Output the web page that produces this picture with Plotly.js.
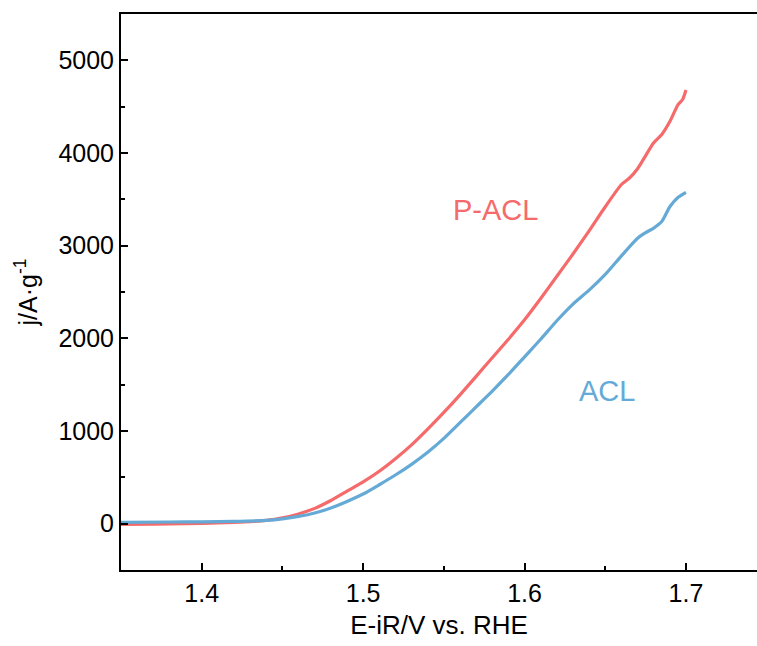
<!DOCTYPE html>
<html>
<head>
<meta charset="utf-8">
<script src="https://cdn.plot.ly/plotly-3.0.1.min.js"></script>
<style>html,body{margin:0;padding:0;background:#fff;}#chart{width:757px;height:646px;}</style>
</head>
<body>
<div id="chart"></div>
<script>
const pacl_E = [1.350,1.370,1.390,1.410,1.430,1.440,1.450,1.460,1.470,1.480,1.490,1.500,1.510,1.520,1.530,1.540,1.550,1.560,1.570,1.580,1.590,1.600,1.610,1.620,1.630,1.640,1.650,1.660,1.665,1.670,1.680,1.685,1.690,1.695,1.698,1.700];
const pacl_j = [-8,-5,0,8,22,35,62,105,165,250,350,450,565,700,850,1020,1200,1390,1590,1790,1990,2200,2430,2670,2910,3160,3420,3660,3730,3830,4110,4200,4340,4520,4580,4680];
const acl_E = [1.350,1.380,1.400,1.420,1.440,1.450,1.460,1.470,1.480,1.490,1.500,1.510,1.520,1.530,1.540,1.550,1.560,1.570,1.580,1.590,1.600,1.610,1.620,1.630,1.640,1.650,1.660,1.670,1.675,1.680,1.685,1.690,1.695,1.700];
const acl_j = [15,18,20,25,35,52,78,115,170,240,320,420,525,640,770,920,1090,1260,1430,1610,1800,1990,2190,2370,2520,2690,2890,3080,3140,3190,3260,3420,3520,3576];
const xTicks = [1.4,1.5,1.6,1.7];
const yTicks = [0,1000,2000,3000,4000,5000];
const labels = ["P-ACL","ACL"];

const red = "#F56A6A", blue = "#65AAD6";
const font = "Arial, 'Liberation Sans', sans-serif";

Plotly.newPlot("chart", [
  {x: pacl_E, y: pacl_j, mode: "lines", line: {color: red, width: 3.2, shape: "spline", smoothing: 0.6}, name: labels[0]},
  {x: acl_E, y: acl_j, mode: "lines", line: {color: blue, width: 3.2, shape: "spline", smoothing: 0.6}, name: labels[1]}
], {
  width: 757, height: 646,
  margin: {l: 121, r: 0, t: 14, b: 76},
  paper_bgcolor: "#fff", plot_bgcolor: "#fff",
  showlegend: false,
  font: {family: font, color: "#000"},
  xaxis: {
    range: [1.35, 1.744], tickvals: xTicks, ticktext: xTicks.map(v => v.toFixed(1)),
    showline: true, linecolor: "#000", linewidth: 2, mirror: true,
    ticks: "inside", ticklen: 7, tickwidth: 2, tickcolor: "#000",
    minor: {tickvals: [1.45,1.55,1.65], ticks: "inside", ticklen: 4, tickwidth: 2, tickcolor: "#000"},
    showgrid: false, zeroline: false,
    tickfont: {size: 25, family: font},
    title: {text: "E-iR/V vs. RHE", font: {size: 26, family: font}, standoff: 10}
  },
  yaxis: {
    range: [-500, 5500], tickvals: yTicks,
    showline: true, linecolor: "#000", linewidth: 2, mirror: false,
    ticks: "inside", ticklen: 7, tickwidth: 2, tickcolor: "#000",
    minor: {tickvals: [500,1500,2500,3500,4500], ticks: "inside", ticklen: 4, tickwidth: 2, tickcolor: "#000"},
    showgrid: false, zeroline: false,
    tickfont: {size: 25, family: font},
    title: {text: "j/A·g<sup>-1</sup>", font: {size: 25, family: font}, standoff: 14}
  },
  annotations: [
    {x: 1.582, y: 3380, xref: "x", yref: "y", text: labels[0], showarrow: false, font: {size: 29, color: red, family: font}},
    {x: 1.651, y: 1430, xref: "x", yref: "y", text: labels[1], showarrow: false, font: {size: 29, color: blue, family: font}}
  ]
}, {displayModeBar: false, staticPlot: true});
</script>
</body>
</html>
